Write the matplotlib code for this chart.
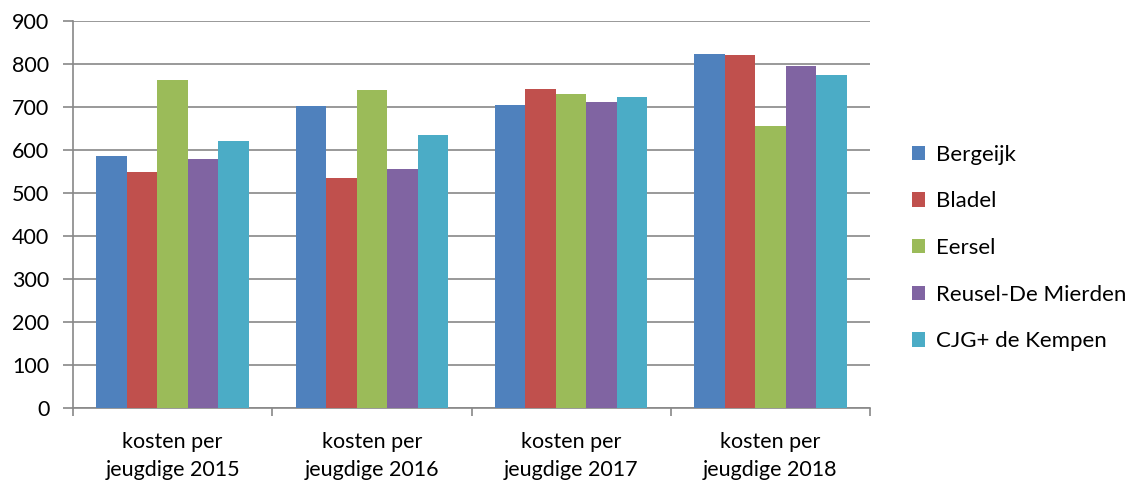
import numpy as np
import matplotlib.pyplot as plt

categories = ['kosten per\njeugdige 2015', 'kosten per\njeugdige 2016',
              'kosten per\njeugdige 2017', 'kosten per\njeugdige 2018']
series = ['Bergeijk', 'Bladel', 'Eersel', 'Reusel-De Mierden', 'CJG+ de Kempen']
bergeijk = [587, 703, 705, 824]
bladel = [550, 535, 742, 822]
eersel = [762, 740, 730, 656]
reusel = [579, 556, 712, 796]
cjg = [622, 636, 724, 775]
colors = ['#4f81bd', '#c0504d', '#9bbb59', '#8064a2', '#4bacc6']

plt.rcParams['font.family'] = ['Lato', 'DejaVu Sans']

fig = plt.figure(figsize=(11.46, 4.84), dpi=100)
ax = fig.add_axes([73 / 1146, 1 - 408 / 484, 797 / 1146, 387 / 484])

x = np.arange(len(categories))
w = 0.153
for i, (name, vals) in enumerate(zip(series, [bergeijk, bladel, eersel, reusel, cjg])):
    ax.bar(x + (i - 2) * w, vals, w, color=colors[i], label=name, zorder=3)

ax.set_xlim(-0.5, len(categories) - 0.5)
ax.set_ylim(0, 900)
ax.set_yticks(range(0, 901, 100))
ax.yaxis.grid(True, color='#888888', linewidth=1.2, zorder=0)
for s in ['top', 'right']:
    ax.spines[s].set_visible(False)
for s in ['left', 'bottom']:
    ax.spines[s].set_color('#888888')
    ax.spines[s].set_linewidth(1.2)

ax.set_xticks(np.arange(-0.5, len(categories)), labels=[''] * (len(categories) + 1))
ax.set_xticks(x, labels=categories, minor=True)
ax.tick_params(axis='x', which='minor', length=0, pad=17, labelsize=15.5)
ax.tick_params(axis='x', which='major', length=6, color='#888888', width=1.2)
ax.tick_params(axis='y', length=7, color='#888888', width=1.2, labelsize=15.5, pad=10)
for lab in ax.get_xticklabels(minor=True):
    lab.set_linespacing(1.5)

fig.legend(loc='center left', bbox_to_anchor=(892 / 1146, 1 - 248 / 484), frameon=False,
           fontsize=16, labelspacing=1.2, handlelength=0.6, handleheight=0.6,
           handletextpad=0.5)

fig.savefig('out.png', dpi=100)
